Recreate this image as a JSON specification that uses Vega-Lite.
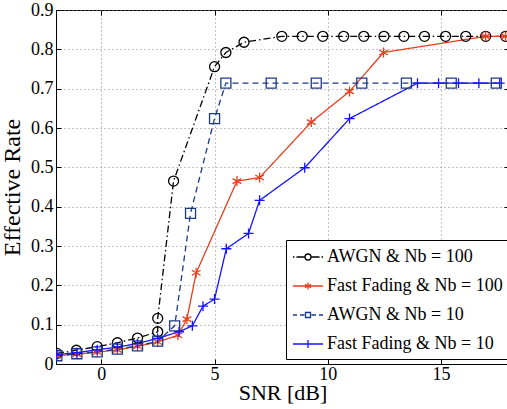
{
  "$schema": "https://vega.github.io/schema/vega-lite/v6.json",
  "width": 453,
  "height": 354,
  "autosize": "none",
  "padding": {"left": 56, "top": 10, "right": 0, "bottom": 45},
  "background": "white",
  "config": {
    "font": "Liberation Serif",
    "view": {"stroke": "black", "strokeWidth": 1},
    "axis": {
      "labelFont": "Liberation Serif",
      "labelFontSize": 18,
      "labelColor": "black",
      "titleFont": "Liberation Serif",
      "titleFontSize": 24,
      "titleFontWeight": "normal",
      "titleColor": "black",
      "domainColor": "black",
      "tickColor": "black",
      "tickSize": -5,
      "gridColor": "#888888",
      "gridDash": [1, 3],
      "gridOpacity": 1
    }
  },
  "datasets": {
    "main": [
      {"s": "AWGN & Nb = 100", "x": -1.96, "y": 0.027},
      {"s": "AWGN & Nb = 100", "x": -1.10, "y": 0.035},
      {"s": "AWGN & Nb = 100", "x": -0.18, "y": 0.044},
      {"s": "AWGN & Nb = 100", "x": 0.71, "y": 0.054},
      {"s": "AWGN & Nb = 100", "x": 1.60, "y": 0.066},
      {"s": "AWGN & Nb = 100", "x": 2.49, "y": 0.082},
      {"s": "AWGN & Nb = 100", "x": 2.49, "y": 0.116},
      {"s": "AWGN & Nb = 100", "x": 3.19, "y": 0.465},
      {"s": "AWGN & Nb = 100", "x": 5.0, "y": 0.756},
      {"s": "AWGN & Nb = 100", "x": 5.5, "y": 0.792},
      {"s": "AWGN & Nb = 100", "x": 6.3, "y": 0.818},
      {"s": "AWGN & Nb = 100", "x": 7.97, "y": 0.833},
      {"s": "AWGN & Nb = 100", "x": 8.87, "y": 0.833},
      {"s": "AWGN & Nb = 100", "x": 9.78, "y": 0.833},
      {"s": "AWGN & Nb = 100", "x": 10.70, "y": 0.833},
      {"s": "AWGN & Nb = 100", "x": 11.59, "y": 0.833},
      {"s": "AWGN & Nb = 100", "x": 12.48, "y": 0.833},
      {"s": "AWGN & Nb = 100", "x": 13.36, "y": 0.833},
      {"s": "AWGN & Nb = 100", "x": 14.27, "y": 0.833},
      {"s": "AWGN & Nb = 100", "x": 15.20, "y": 0.833},
      {"s": "AWGN & Nb = 100", "x": 16.09, "y": 0.833},
      {"s": "AWGN & Nb = 100", "x": 16.97, "y": 0.833},
      {"s": "AWGN & Nb = 100", "x": 17.85, "y": 0.833},
      {"s": "Fast Fading & Nb = 100", "x": -1.96, "y": 0.021},
      {"s": "Fast Fading & Nb = 100", "x": -1.08, "y": 0.025},
      {"s": "Fast Fading & Nb = 100", "x": -0.18, "y": 0.030},
      {"s": "Fast Fading & Nb = 100", "x": 0.71, "y": 0.036},
      {"s": "Fast Fading & Nb = 100", "x": 1.60, "y": 0.045},
      {"s": "Fast Fading & Nb = 100", "x": 2.49, "y": 0.056},
      {"s": "Fast Fading & Nb = 100", "x": 3.38, "y": 0.073},
      {"s": "Fast Fading & Nb = 100", "x": 3.78, "y": 0.114},
      {"s": "Fast Fading & Nb = 100", "x": 4.19, "y": 0.232},
      {"s": "Fast Fading & Nb = 100", "x": 5.99, "y": 0.465},
      {"s": "Fast Fading & Nb = 100", "x": 6.99, "y": 0.474},
      {"s": "Fast Fading & Nb = 100", "x": 9.27, "y": 0.615},
      {"s": "Fast Fading & Nb = 100", "x": 10.96, "y": 0.693},
      {"s": "Fast Fading & Nb = 100", "x": 12.46, "y": 0.792},
      {"s": "Fast Fading & Nb = 100", "x": 16.97, "y": 0.833},
      {"s": "Fast Fading & Nb = 100", "x": 17.85, "y": 0.833},
      {"s": "AWGN & Nb = 10", "x": -1.96, "y": 0.021},
      {"s": "AWGN & Nb = 10", "x": -1.08, "y": 0.026},
      {"s": "AWGN & Nb = 10", "x": -0.18, "y": 0.031},
      {"s": "AWGN & Nb = 10", "x": 0.71, "y": 0.038},
      {"s": "AWGN & Nb = 10", "x": 1.60, "y": 0.046},
      {"s": "AWGN & Nb = 10", "x": 2.49, "y": 0.058},
      {"s": "AWGN & Nb = 10", "x": 3.24, "y": 0.097},
      {"s": "AWGN & Nb = 10", "x": 3.94, "y": 0.383},
      {"s": "AWGN & Nb = 10", "x": 5.0, "y": 0.624},
      {"s": "AWGN & Nb = 10", "x": 5.5, "y": 0.714},
      {"s": "AWGN & Nb = 10", "x": 7.5, "y": 0.714},
      {"s": "AWGN & Nb = 10", "x": 9.49, "y": 0.714},
      {"s": "AWGN & Nb = 10", "x": 11.5, "y": 0.714},
      {"s": "AWGN & Nb = 10", "x": 13.47, "y": 0.714},
      {"s": "AWGN & Nb = 10", "x": 15.45, "y": 0.714},
      {"s": "AWGN & Nb = 10", "x": 17.44, "y": 0.714},
      {"s": "Fast Fading & Nb = 10", "x": -1.96, "y": 0.024},
      {"s": "Fast Fading & Nb = 10", "x": -1.08, "y": 0.029},
      {"s": "Fast Fading & Nb = 10", "x": -0.18, "y": 0.036},
      {"s": "Fast Fading & Nb = 10", "x": 0.71, "y": 0.043},
      {"s": "Fast Fading & Nb = 10", "x": 1.60, "y": 0.052},
      {"s": "Fast Fading & Nb = 10", "x": 2.49, "y": 0.065},
      {"s": "Fast Fading & Nb = 10", "x": 3.43, "y": 0.082},
      {"s": "Fast Fading & Nb = 10", "x": 4.02, "y": 0.097},
      {"s": "Fast Fading & Nb = 10", "x": 4.49, "y": 0.147},
      {"s": "Fast Fading & Nb = 10", "x": 5.0, "y": 0.165},
      {"s": "Fast Fading & Nb = 10", "x": 5.52, "y": 0.293},
      {"s": "Fast Fading & Nb = 10", "x": 6.50, "y": 0.332},
      {"s": "Fast Fading & Nb = 10", "x": 6.99, "y": 0.416},
      {"s": "Fast Fading & Nb = 10", "x": 8.98, "y": 0.499},
      {"s": "Fast Fading & Nb = 10", "x": 10.96, "y": 0.624},
      {"s": "Fast Fading & Nb = 10", "x": 13.96, "y": 0.714},
      {"s": "Fast Fading & Nb = 10", "x": 14.89, "y": 0.714},
      {"s": "Fast Fading & Nb = 10", "x": 15.77, "y": 0.714},
      {"s": "Fast Fading & Nb = 10", "x": 16.67, "y": 0.714},
      {"s": "Fast Fading & Nb = 10", "x": 17.59, "y": 0.714}
    ]
  },
  "resolve": {
    "scale": {"color": "independent", "shape": "independent", "size": "independent", "strokeDash": "independent"},
    "axis": {"x": "independent", "y": "independent"}
  },
  "layer": [
    {
      "data": {"name": "main"},
      "mark": {"type": "line", "strokeWidth": 1.3, "clip": true},
      "encoding": {
        "x": {"field": "x", "type": "quantitative",
          "scale": {"domain": [-2, 18], "nice": false, "zero": false},
          "axis": {"values": [0, 5, 10, 15], "title": "SNR [dB]", "titleFontSize": 22, "grid": true, "labelPadding": 6, "titlePadding": -1}},
        "y": {"field": "y", "type": "quantitative",
          "scale": {"domain": [0, 0.9], "nice": false},
          "axis": {"values": [0, 0.1, 0.2, 0.3, 0.4, 0.5, 0.6, 0.7, 0.8, 0.9], "format": ".1~f", "title": "Effective Rate", "grid": true, "labelPadding": 8, "titlePadding": 6}},
        "color": {"field": "s", "type": "nominal", "legend": null,
          "scale": {"domain": ["AWGN & Nb = 100", "Fast Fading & Nb = 100", "AWGN & Nb = 10", "Fast Fading & Nb = 10"],
                    "range": ["#000000", "#E5401E", "#1C3A8A", "#1414FF"]}},
        "strokeDash": {"field": "s", "type": "nominal", "legend": null,
          "scale": {"domain": ["AWGN & Nb = 100", "Fast Fading & Nb = 100", "AWGN & Nb = 10", "Fast Fading & Nb = 10"],
                    "range": [[7, 3, 1.5, 3], [1, 0], [6, 4], [1, 0]]}},
        "order": [{"field": "x", "type": "quantitative"}, {"field": "y", "type": "quantitative"}]
      }
    },
    {
      "data": {"name": "main"},
      "mark": {"type": "point", "filled": false, "strokeWidth": 1.3, "opacity": 1, "clip": true},
      "encoding": {
        "x": {"field": "x", "type": "quantitative",
          "scale": {"domain": [-2, 18], "nice": false, "zero": false},
          "axis": {"orient": "top", "values": [0, 5, 10, 15], "labels": false, "title": null, "grid": false, "domain": false}},
        "y": {"field": "y", "type": "quantitative",
          "scale": {"domain": [0, 0.9], "nice": false},
          "axis": {"orient": "right", "values": [0, 0.1, 0.2, 0.3, 0.4, 0.5, 0.6, 0.7, 0.8, 0.9], "labels": false, "title": null, "grid": false, "domain": false}},
        "color": {"field": "s", "type": "nominal", "legend": null,
          "scale": {"domain": ["AWGN & Nb = 100", "Fast Fading & Nb = 100", "AWGN & Nb = 10", "Fast Fading & Nb = 10"],
                    "range": ["#000000", "#E5401E", "#1C3A8A", "#1414FF"]}},
        "shape": {"field": "s", "type": "nominal", "legend": null,
          "scale": {"domain": ["AWGN & Nb = 100", "Fast Fading & Nb = 100", "AWGN & Nb = 10", "Fast Fading & Nb = 10"],
                    "range": ["circle", "M0,-1V1M-0.87,-0.5L0.87,0.5M-0.87,0.5L0.87,-0.5", "square", "M-1,0H1M0,-1V1"]}},
        "size": {"field": "s", "type": "nominal", "legend": null,
          "scale": {"domain": ["AWGN & Nb = 100", "Fast Fading & Nb = 100", "AWGN & Nb = 10", "Fast Fading & Nb = 10"],
                    "range": [100, 100, 56, 121]}}
      }
    },
    {
      "data": {"name": "main"},
      "transform": [{"filter": "false"}],
      "mark": {"type": "point", "filled": false, "strokeWidth": 1.3, "opacity": 1, "size": 400},
      "encoding": {
        "color": {"field": "s", "type": "nominal",
          "scale": {"domain": ["AWGN & Nb = 100", "Fast Fading & Nb = 100", "AWGN & Nb = 10", "Fast Fading & Nb = 10"],
                    "range": ["#000000", "#E5401E", "#1C3A8A", "#1414FF"]},
          "legend": {"orient": "none", "legendX": 230, "legendY": 230, "title": null, "padding": 6,
            "strokeColor": "black", "fillColor": "white", "cornerRadius": 0, "labelLimit": 400,
            "labelFont": "Liberation Serif", "labelFontSize": 18, "labelColor": "black",
            "symbolSize": 400, "symbolStrokeWidth": 1.3, "rowPadding": 9, "labelOffset": 8, "symbolOffset": 5}},
        "shape": {"field": "s", "type": "nominal",
          "scale": {"domain": ["AWGN & Nb = 100", "Fast Fading & Nb = 100", "AWGN & Nb = 10", "Fast Fading & Nb = 10"],
                    "range": [
                      "M-1.5,0H-1.35M-1.15,0H-0.3M0.3,0H1.15M1.35,0H1.5M0.3,0A0.3,0.3 0 1,1 -0.3,0A0.3,0.3 0 1,1 0.3,0",
                      "M-1.5,0H1.5M0,-0.35V0.35M-0.3,-0.175L0.3,0.175M-0.3,0.175L0.3,-0.175",
                      "M-1.5,0H-1.1M-0.8,0H-0.35M0.35,0H0.8M1.1,0H1.5M-0.25,-0.25H0.25V0.25H-0.25Z",
                      "M-1.5,0H1.5M0,-0.4V0.4"]},
          "legend": {"orient": "none", "legendX": 230, "legendY": 230, "title": null, "padding": 6,
            "strokeColor": "black", "fillColor": "white", "cornerRadius": 0, "labelLimit": 400,
            "labelFont": "Liberation Serif", "labelFontSize": 18, "labelColor": "black",
            "symbolSize": 400, "symbolStrokeWidth": 1.3, "rowPadding": 9, "labelOffset": 8, "symbolOffset": 5}}
      }
    }
  ]
}
